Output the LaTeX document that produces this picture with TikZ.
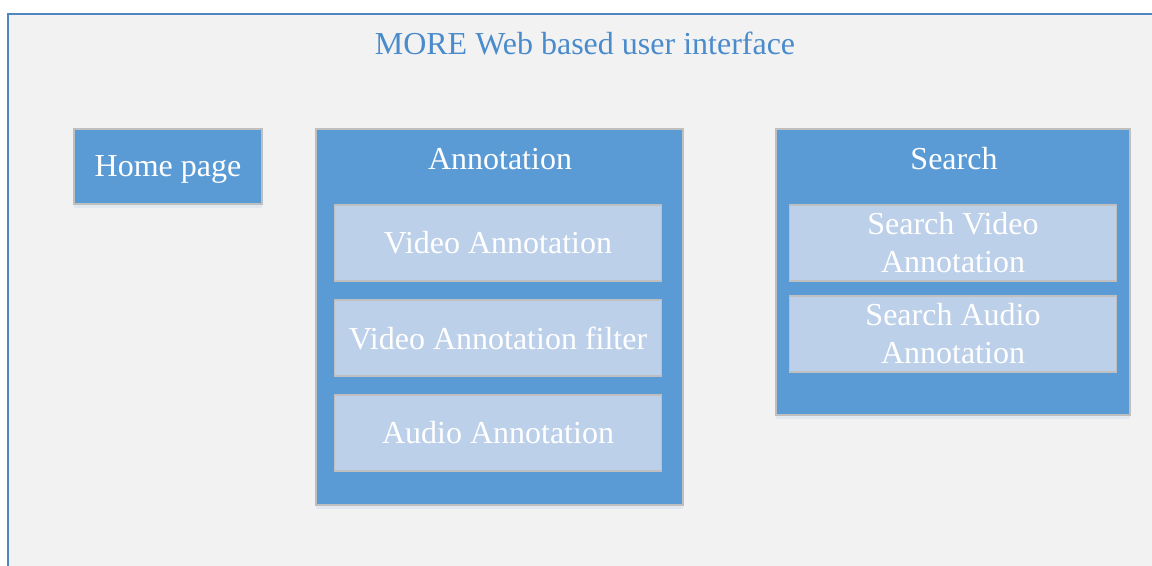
\documentclass[tikz,border=0pt]{standalone}
\usepackage{fontspec}
\setmainfont{Liberation Serif}
\usetikzlibrary{positioning}
\usetikzlibrary{shadows}

\definecolor{framebg}{HTML}{F2F2F2}
\definecolor{frameline}{HTML}{4F86C0}
\definecolor{titleblue}{HTML}{4A8BCB}
\definecolor{boxblue}{HTML}{5B9BD5}
\definecolor{subblue}{HTML}{BDD0E9}
\definecolor{boxline}{HTML}{BFBFBF}

\begin{document}
\begin{tikzpicture}
    [x=0.5pt, y=-0.5pt,
     mainbox/.style={rectangle, draw=boxline, line width=1pt, fill=boxblue, text=white, inner sep=0pt, outer sep=0pt, anchor=north west,
                     font=\fontsize{16}{19}\selectfont, text depth=0pt,
                     drop shadow={shadow xshift=0pt, shadow yshift=-2pt, fill=boxblue!60, opacity=0.2}},
     subbox/.style={rectangle, draw=boxline, line width=0.75pt, fill=subblue, text=white, inner sep=0pt, outer sep=0pt,
                    minimum width=163.5pt, minimum height=38pt, align=center, font=\fontsize{16}{19}\selectfont},
     boxtitle/.style={text=white, font=\fontsize{16}{19}\selectfont}]

    \useasboundingbox (0,0) rectangle (1152,566);
    \clip (0,0) rectangle (1152,566);
    \draw [frameline, fill=framebg, line width=1pt] (8,14) rectangle (1180,600);
    \node [text=titleblue, font=\fontsize{16}{19}\selectfont] (ui) at (585,43) {MORE Web based user interface};

    \node [mainbox, minimum width=94pt, minimum height=37.5pt] (home) at (74,129) {Home page};

    \node [mainbox, minimum width=183.5pt, minimum height=188pt] (annot) at (316,129) {};
    \node [boxtitle] (annott) at (500,159) {Annotation};
    \node [subbox, anchor=north] (va) at (498,205) {Video Annotation};
    \node [subbox, below=9.5pt of va] (vaf) {Video Annotation filter};
    \node [subbox, below=9.5pt of vaf] (aa) {Audio Annotation};

    \node [mainbox, minimum width=177pt, minimum height=143pt] (search) at (776,129) {};
    \node [boxtitle] (searcht) at (954,159) {Search};
    \node [subbox, anchor=north] (sva) at (953,205) {Search Video\\Annotation};
    \node [subbox, below=7.5pt of sva] (saa) {Search Audio\\Annotation};
\end{tikzpicture}
\end{document}
